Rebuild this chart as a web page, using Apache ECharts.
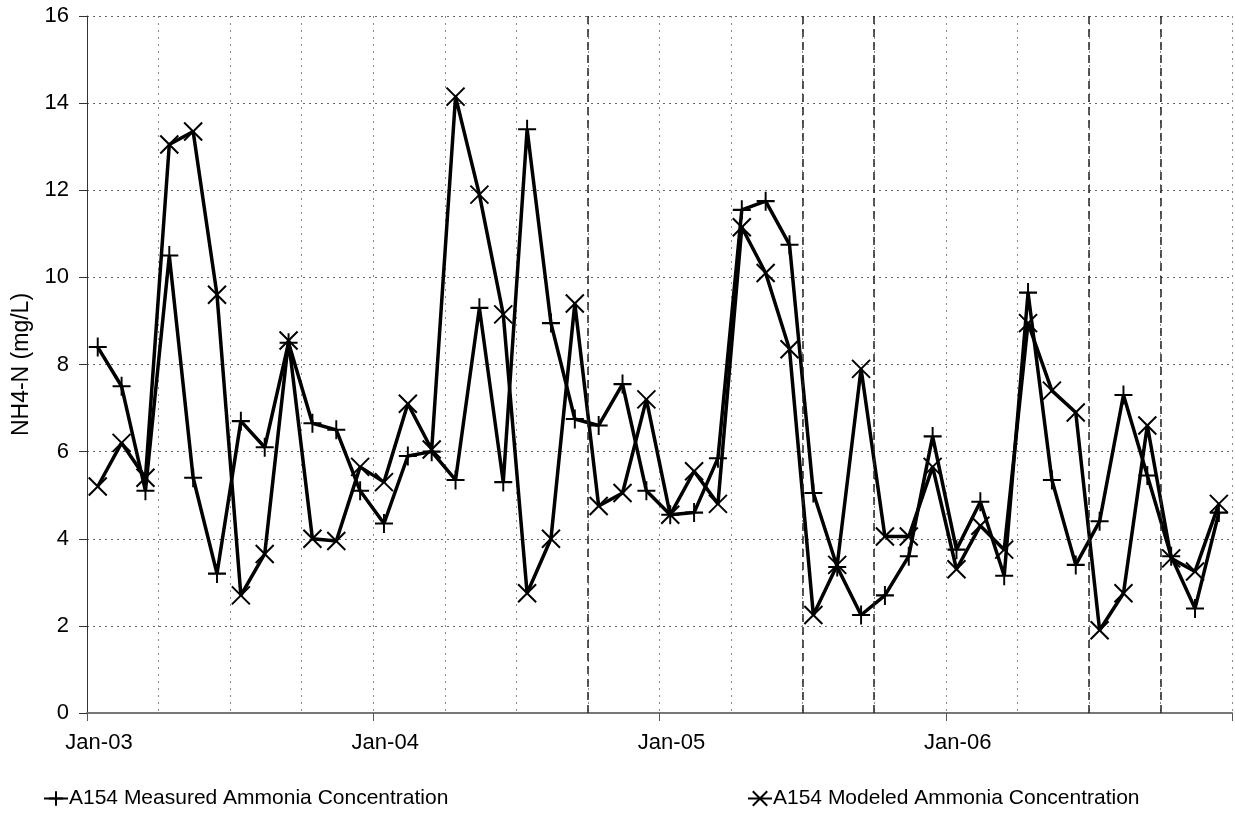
<!DOCTYPE html>
<html>
<head>
<meta charset="utf-8">
<title>A154 Ammonia Concentration</title>
<script src="https://cdn.jsdelivr.net/npm/echarts@6/dist/echarts.min.js"></script>
<style>
  html, body { margin: 0; padding: 0; background: #fff; }
  #chart { width: 1235px; height: 835px; }
</style>
</head>
<body>
<div id="chart"></div>
<script>
// Monthly sampling, Jan 2003 – Dec 2006
const sampleMonths = [
  '2003-01','2003-02','2003-03','2003-04','2003-05','2003-06','2003-07','2003-08','2003-09','2003-10','2003-11','2003-12',
  '2004-01','2004-02','2004-03','2004-04','2004-05','2004-06','2004-07','2004-08','2004-09','2004-10','2004-11','2004-12',
  '2005-01','2005-02','2005-03','2005-04','2005-05','2005-06','2005-07','2005-08','2005-09','2005-10','2005-11','2005-12',
  '2006-01','2006-02','2006-03','2006-04','2006-05','2006-06','2006-07','2006-08','2006-09','2006-10','2006-11','2006-12'
];

// NH4-N, mg/L
const measured = [
  8.4, 7.5, 5.1, 10.5, 5.4, 3.2, 6.7, 6.1, 8.5, 6.65, 6.5, 5.1,
  4.35, 5.9, 6.0, 5.35, 9.3, 5.3, 13.4, 8.95, 6.75, 6.6, 7.55, 5.1,
  4.55, 4.6, 5.85, 11.55, 11.75, 10.75, 5.05, 3.35, 2.25, 2.7, 3.6, 6.35,
  3.75, 4.85, 3.15, 9.65, 5.35, 3.4, 4.4, 7.3, 5.45, 3.6, 2.4, 4.6
];
const modeled = [
  5.2, 6.2, 5.4, 13.05, 13.35, 9.6, 2.7, 3.65, 8.55, 4.0, 3.95, 5.65,
  5.3, 7.1, 6.05, 14.15, 11.9, 9.15, 2.75, 4.0, 9.4, 4.75, 5.05, 7.2,
  4.55, 5.55, 4.8, 11.15, 10.1, 8.35, 2.25, 3.4, 7.9, 4.05, 4.05, 5.65,
  3.3, 4.3, 3.75, 8.95, 7.4, 6.9, 1.9, 2.75, 6.6, 3.55, 3.25, 4.8
];

const seriesNames = ['A154 Measured Ammonia Concentration', 'A154 Modeled Ammonia Concentration'];
const yTicks = [0, 2, 4, 6, 8, 10, 12, 14, 16];
const yearLabels = ['Jan-03', 'Jan-04', 'Jan-05', 'Jan-06', 'Jan-07'];
// Quarter boundaries (months since Jan-03) where the grid is drawn dashed
const dashedQuarters = [21, 30, 33, 42, 45];

// Month offset from Jan 2003, samples taken near mid-month
function monthPos(ym) {
  const parts = ym.split('-').map(Number);
  return (parts[0] - 2003) * 12 + (parts[1] - 1) + 0.45;
}

const measuredPts = sampleMonths.map((m, i) => [monthPos(m), measured[i]]);
const modeledPts = sampleMonths.map((m, i) => [monthPos(m), modeled[i]]);

const plusPath = 'path://M0,10L20,10M10,0L10,20';
const crossPath = 'path://M0,0L20,20M20,0L0,20';

const font = 'Liberation Sans, Arial, sans-serif';

const chart = echarts.init(document.getElementById('chart'), null, { renderer: 'canvas' });

chart.setOption({
  animation: false,
  backgroundColor: '#fff',
  grid: { left: 87, right: 3, top: 16, bottom: 122, containLabel: false },
  xAxis: [
    {
      type: 'value',
      min: 0, max: 48, interval: 12,
      axisLine: { show: true, onZero: false, lineStyle: { color: '#777', width: 2 } },
      axisTick: { show: true, length: 8, lineStyle: { color: '#555' } },
      axisLabel: {
        color: '#000', fontSize: 22, fontFamily: font, margin: 19,
        padding: [0, 0, 0, 24],
        formatter: v => (v < 48 ? yearLabels[v / 12] : '')
      },
      splitLine: { show: false }
    },
    {
      type: 'value',
      min: 0, max: 48, interval: 3,
      axisLine: { show: false },
      axisTick: { show: false },
      axisLabel: { show: false },
      splitLine: { show: true, lineStyle: { color: '#888', type: [2, 5], width: 1 } }
    }
  ],
  yAxis: {
    type: 'value',
    min: yTicks[0], max: yTicks[yTicks.length - 1], interval: 2,
    name: 'NH4-N (mg/L)',
    nameLocation: 'middle',
    nameGap: 49,
    nameTextStyle: { color: '#000', fontSize: 23, fontFamily: font },
    axisLine: { show: true, lineStyle: { color: '#333', width: 1 } },
    axisTick: { show: true, length: 8, lineStyle: { color: '#333' } },
    axisLabel: { color: '#000', fontSize: 22, fontFamily: font, margin: 18 },
    splitLine: { show: true, lineStyle: { color: '#666', type: [2, 4], width: 1 } }
  },
  legend: [
    {
      data: [seriesNames[0]],
      left: 38, top: 783,
      itemWidth: 24, itemHeight: 18, itemGap: 0,
      textStyle: { color: '#000', fontSize: 21, fontFamily: font, padding: [0, 0, 0, -4] }
    },
    {
      data: [seriesNames[1]],
      left: 742, top: 783,
      itemWidth: 24, itemHeight: 18, itemGap: 0,
      textStyle: { color: '#000', fontSize: 21, fontFamily: font, padding: [0, 0, 0, -4] }
    }
  ],
  series: [
    {
      name: seriesNames[0],
      type: 'line',
      xAxisIndex: 0,
      data: measuredPts,
      symbol: plusPath,
      symbolSize: [18, 19],
      showAllSymbol: true,
      color: '#000',
      itemStyle: { color: '#000', borderColor: '#000', borderWidth: 2 },
      lineStyle: { color: '#000', width: 3.5 },
      z: 3,
      markLine: {
        silent: true,
        symbol: ['none', 'none'],
        label: { show: false },
        lineStyle: { color: '#222', type: [8, 5], width: 1.5 },
        data: dashedQuarters.map(q => ({ xAxis: q }))
      }
    },
    {
      name: seriesNames[1],
      type: 'line',
      xAxisIndex: 0,
      data: modeledPts,
      symbol: crossPath,
      symbolSize: [18, 18],
      showAllSymbol: true,
      color: '#000',
      itemStyle: { color: '#000', borderColor: '#000', borderWidth: 2 },
      lineStyle: { color: '#000', width: 3.5 },
      z: 4
    }
  ]
});
</script>
</body>
</html>
